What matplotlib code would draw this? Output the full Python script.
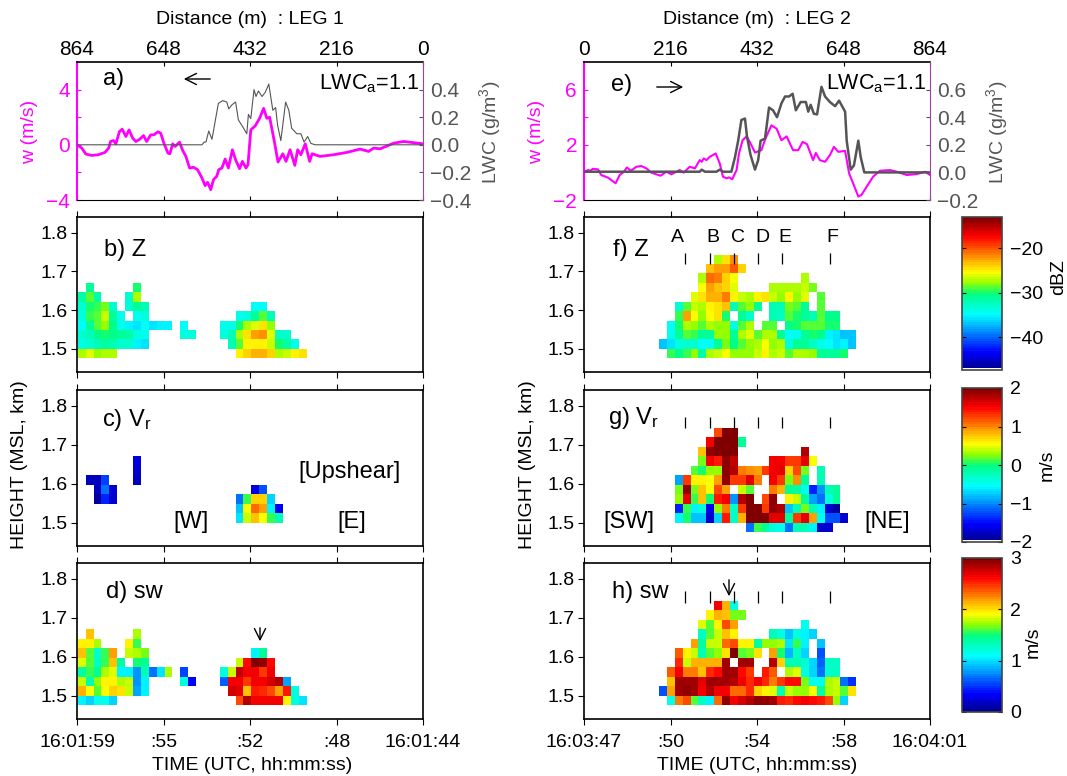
"""Aircraft legs through a cloud: w and LWC traces above radar Z, Vr and sw curtains."""

import numpy as np
import matplotlib
matplotlib.use("Agg")
import matplotlib.pyplot as plt
from matplotlib.colors import LinearSegmentedColormap, ListedColormap, Normalize
from matplotlib.cm import ScalarMappable
from matplotlib.patches import FancyArrowPatch

plt.rcParams['font.family'] = ['Liberation Sans', 'DejaVu Sans']
plt.rcParams['mathtext.fontset'] = 'custom'
plt.rcParams['mathtext.rm'] = 'Liberation Sans'
plt.rcParams['mathtext.it'] = 'Liberation Sans'
plt.rcParams['font.size'] = 14

_ = np.nan

# flight level traces, distance in m
W1_DIST = [864,852,842,827,811,794,785,780,773,767,758,751,742,734,725,717,707,698,690,680,672,662,655,647,637,632,625,619,608,600,592,583,573,563,552,544,538,530,523,515,510,502,494,486,476,468,458,451,442,437,430,419,408,398,390,383,372,362,350,342,332,320,313,305,294,283,277,257,223,190,157,136,123,107,73,48,0]
W1 = [0,-.24,-.67,-.77,-.72,-.55,-.24,.24,.31,.07,.96,1.13,.6,1.08,.48,.24,.41,.67,.24,.72,.72,.94,.84,.12,-.6,-.65,.07,-.12,.19,-.41,-.84,-1.68,-1.63,-1.8,-2.4,-2.96,-2.72,-3.25,-2.52,-2.28,-1.8,-1.68,-1.03,-1.68,-.36,-1.08,-1.73,-1.2,-1.68,-1.44,1.08,1.37,1.92,2.64,1.92,2.0,.36,-1.25,-.65,-1.2,-.36,-1.49,-.36,-.72,.07,-1.2,-.65,-.84,-.72,-.55,-.31,-.48,-.24,-.29,.12,.24,.07]
LWC1_DIST = [864,552,546,542,535,527,519,511,500,490,485,477,468,461,450,440,436,430,422,417,411,402,394,385,375,368,363,355,343,335,328,315,305,297,288,280,269,0]
LWC1 = [0,0,.02,.02,.10,.04,.17,.30,.32,.31,.26,.29,.31,.18,.13,.08,.22,.19,.40,.35,.39,.35,.38,.44,.25,.27,.14,.03,.31,.25,.12,.08,.08,.02,.06,.01,0,0]
W2_DIST = [0,10,16,22,35,43,60,79,89,100,107,117,131,143,156,168,191,206,218,239,249,264,277,289,294,299,306,314,329,339,347,356,362,370,381,387,396,406,414,427,443,452,468,481,493,506,522,535,546,557,572,579,589,602,614,624,635,652,662,672,685,693,706,722,739,764,781,806,831,852,864]
W2 = [.05,.17,.12,.26,.22,-.19,-.38,-.79,-.19,.05,.36,.12,.41,.46,.29,-.02,-.24,.05,-.14,.17,-.02,.41,.29,.89,.77,1.01,.89,1.13,1.37,.65,-.31,-.43,-.36,-.5,.17,1.37,2.33,2.61,2.21,1.44,1.61,2.37,3.41,3.17,2.33,2.61,1.61,1.61,2.21,2.04,.89,1.41,.89,.77,1.25,1.85,1.49,1.56,-.07,-.79,-1.75,-1.63,-1.03,-.31,.12,.17,.05,-.19,-.12,.05,-.19]
LWC2_DIST = [0,289,294,302,331,339,347,368,377,385,393,402,407,416,427,435,441,452,462,472,482,493,502,512,521,529,541,554,560,566,574,582,593,602,614,627,637,652,656,666,674,685,691,700,864]
LWC2 = [.005,.005,.02,.005,.005,.02,.005,.005,.11,.23,.38,.39,.26,.125,.02,.09,.23,.245,.47,.45,.40,.50,.55,.55,.57,.45,.51,.51,.44,.49,.425,.42,.62,.55,.51,.48,.52,.44,.23,.02,.05,.23,.11,0,0]

# radar curtains, rows from the lowest gate up, columns along the leg
Z_LEG1 = [
    [-27,-26,-28,-27,-27] + [_]*15 + [-25,-24,-23,-23,-24,-27,-26.5,-25,-24.5],
    [-33.5,-33,-32,-31.5,-32,-33,-33,-35.5,-36] + [_]*10 + [-32,-29,-25,-25,-25,-26.5,-30,-31.5,-34],
    [-33,-32,-30.5,-30,-30.5,-31,-31.5,-33.5,-34] + [_]*4 + [-33.5,-33.5] + [_]*3 + [-33.5,-32,-27,-24.5,-22.5,-22,-26,-32.5,-33],
    [-35,-31,-29,-28,-30.5,-34.5,-35.5,-36,-35,-36,-35.5,-35.5,_,-35] + [_]*4 + [-34.5,-34.5,-30,-27.5,-26,-24.5,-28],
    [-33.5,-29.5,-29,-26.5,-31,-34,_,-34.5,-33.5] + [_]*11 + [-34,-33.5,-31,-29,-32],
    [-33,-30,-29.5,-28.5,-33,_,-33,-31,-32] + [_]*13 + [-35,-35],
    [-31.5,-29,-31.5,_,_,_,-33,-27.5],
    [_,-31,_,_,_,_,_,-30],
]
Z_LEG2 = [
    [_]*11 + [-29.5,-30.5,-29.5,-28,-31.5,-27,-26.5,-25.5,-28,-28,-28,-26.5,-25,-27,-26.5,-29,-27,-27.5,-28,-31,-31,-31,-30],
    [_]*10 + [-37,-36,-33.5,-33,-33,-35,-35,-31,-28.5,-30.5,-29,-28,-27,-25.5,-28,-27.5,-33.5,-31,-31,-32.5,-34.5,-35,-36,-35.5,-37],
    [_]*11 + [-34,-31,-29,-29.5,-31,-31,-28,-28,-31,-27.5,-26,-29,-27,-27,-31,-35,-34.5,-31,-30,-30.5,-35.5,-36,-37,-37],
    [_]*11 + [-35,-30,-27,-28,-29,-27,-28,-28,-33.5,-29,-27.5,_,-29,-29,_,-30.5,-30,-29,-29,-29,-30,-30],
    [_]*12 + [-29.5,-22.5,-25.5,-28,-25.5,-24.5,-30,_,-31,-33,_,_,-32,-32.5,-29,-30,-31,-32,-29,-30.5,-30.5],
    [_]*12 + [-33,-29,-26.5,-27,-25,-24.5,-23.5,-32,-29,-28,-31,_,-32,-32,-28.5,-29,-31,_,-29],
    [_]*14 + [-26,-24.5,-23,-23,-21.5,-25,-26.5,-27,-25,-24.5,-26.5,-28,-25,-28,-26,_,-29],
    [_]*15 + [-25.5,-22.5,-23.5,-24,-26] + [_]*4 + [-27,-27,-27,-27,-26.5,-28.5],
    [_]*15 + [-27,-21,-21.5,-24,-25.5] + [_]*8 + [-27],
    [_]*16 + [-23.5,-22.5,-22.5,-20.5,-24],
    [_]*17 + [-27.5,-24.5,-22],
]
VR_LEG1 = [
    [],
    [_]*20 + [-.65,.4,.8,.5,.1,-.2],
    [_]*20 + [-.8,.5,1.1,.9,-.6,-1.6],
    [_,_,-1.9,-1.4,-1.7] + [_]*15 + [-1.1,.1,.7,.7,-.7],
    [_,_,-1.8,-1.1,-1.7] + [_]*17 + [-1.65,-1.2],
    [_,-1.8,-1.8,-1.3,_,_,_,-1.8],
    [_]*7 + [-1.75],
    [_]*7 + [-1.65],
]
VR_LEG2 = [
    [_]*21 + [-1.1,.1,-.1,-.4,-.5,-1.1,-.2,-.25,-.6,-1.7,-1.7],
    [_]*12 + [-.6,0,-.8,-.8,-1.75,-.7,1.4,-.3,.85,2,2,2,1.6,1.6,-.1,1.3,1.6,.9,-.5,-1.2,-1.2,-1.7],
    [_]*12 + [-1.4,.1,-.6,-.4,-1.6,.25,1.05,-.3,1.3,2,2,1.3,1.9,1.8,-.8,-.2,.2,-.2,-.6,-1.7,-1.9],
    [_]*12 + [.25,1.6,.1,.8,.05,1.4,1.5,-1,1.8,2,_,1.2,1.9,_,.6,.4,-.1,-.9,-1.1,-.4,-.1],
    [_]*12 + [.2,1.9,.2,.8,.55,1.2,.9,_,.4,.15,_,_,1.05,.85,-.1,-.15,-.5,-1.4,-1,-.2,-.1],
    [_]*12 + [-.9,1.3,.6,.6,.5,.9,1.9,1.25,1.25,1.6,1.05,_,1.5,1.25,.2,.95,-.1,_,-.2],
    [_]*14 + [.15,.05,.25,.25,1.9,1.8,1,.95,.9,1.3,1.5,1.6,.7,1.2,.2,_,-.2],
    [_]*15 + [.2,1.5,1.4,1.9,1.7] + [_]*4 + [1.5,1.5,1.3,1.3,1.6,.5],
    [_]*15 + [.8,1.9,2,2,2] + [_]*8 + [1.8],
    [_]*16 + [1.5,2,2,2,-.1],
    [_]*17 + [1.2,2,2],
]
SW_LEG1 = [
    [1.05,.95,1.15,1.15,.95] + [_]*15 + [2.4,2.85,2.65,2.65,2.65,2.65,1.95,1.2,1.0],
    [2.15,1.9,1.6,1.9,2.05,2,1.8,.8,1.05] + [_]*10 + [2.75,2.7,2.1,2.55,2.5,2.4,2.2,2.55,1.2],
    [1.8,1.35,1.7,1.95,1.95,1.75,1.8,.75,1.05] + [_]*4 + [1.2,.35] + [_]*3 + [.65,2.65,2.65,2.45,2.65,2.65,2.75,2.85,.8],
    [1.4,1.55,1.45,1.75,1.85,1.05,1.05,.75,1.35,.7,1.0,1.75,_,.55] + [_]*4 + [1.2,1.8,2.8,2.65,2.65,2.45,2.65],
    [1.85,1.6,1.3,1.55,2.1,1.4,_,1.5,1.45] + [_]*11 + [1.8,2.6,3,2.95,2.6],
    [2.1,1.6,1.25,1.55,2.2,_,1.8,1.75,1.65] + [_]*13 + [1.05,1.45],
    [1.95,1.95,1.75,_,_,_,1.95,1.55],
    [_,2.1,_,_,_,_,_,1.75],
]
SW_LEG2 = [
    [_]*11 + [1.15,2.25,2.4,1.6,1.3,1.05,2.3,2.95,2.65,2.75,2.85,2.95,2.95,2.9,2.55,2.5,2.6,2.65,2.6,2.55,2.4,1.7,.95],
    [_]*10 + [.6,2.2,2.9,2.95,2.9,2.65,2.85,2.65,2.65,2.3,2.3,2.5,2.05,1.95,1.85,1.35,1.8,1.7,1.7,1.9,1.4,1.75,1.8,1.6,2],
    [_]*11 + [2.1,2.9,2.9,2.9,2.7,2.9,2.9,2.9,2.85,2.65,2.5,2.65,2.5,2.25,2.45,2.6,2.6,1.65,1.15,1.15,1.75,1.8,.7,.5],
    [_]*11 + [2.35,2.65,2.25,2.25,2.1,2.5,2.6,2.9,2.9,2.6,2.45,_,2.55,2.35,_,1.75,1.85,1.2,.95,.7,1.25,1.3],
    [_]*12 + [2.5,1.8,2.15,2.15,2.15,2.15,2.9,_,2.9,2.9,_,_,2.85,2.05,1.35,1.35,1.25,.95,.65,1.3,1.3],
    [_]*12 + [2.35,1.95,1.8,1.35,1.6,1.7,2,3,1.6,1.65,2,_,2.2,1.5,.85,1.3,.95,_,.6],
    [_]*14 + [2.2,1.4,1.8,1.8,2.3,2.4,1.95,1.95,1.4,1.7,1.7,1.75,1,1.55,1.05,_,.9],
    [_]*15 + [1.3,1.6,1.8,2.1,1.95] + [_]*4 + [1.35,1.2,.9,1.2,1.05,.95],
    [_]*15 + [1.85,1.6,1.95,2.4,2.2] + [_]*8 + [1.15],
    [_]*16 + [1.95,2.15,2.1,1.65,1.65],
    [_]*17 + [2.65,2.15,1.2],
]

DIST_TICKS = [864, 648, 432, 216, 0]
LEG1_TIMES = ['16:01:59', ':55', ':52', ':48', '16:01:44']
LEG2_TICKS = [0, 216, 432, 648, 864]
LEG2_TIMES = ['16:03:47', ':50', ':54', ':58', '16:04:01']
HEIGHT_TICKS = [1.5, 1.6, 1.7, 1.8]
MARK_DIST = [252, 314, 374, 434, 494, 614]
MARK_NAMES = ['A', 'B', 'C', 'D', 'E', 'F']

W, H = 1067, 776
MAGENTA = '#ff00ff'
GREY = '#555555'
N_ROWS, N_COLS = 11, 46
CELL_M = 19.7
GATE_KM = 0.0243

fig = plt.figure(figsize=(W / 100, H / 100), dpi=100)


def add_axes(left, top, right, bottom):
    """Axes from pixel edges of the picture."""
    return fig.add_axes([left / W, 1 - bottom / H, (right - left) / W, (bottom - top) / H])


def put_text(x, y, s, **kw):
    """Figure text placed in pixels."""
    kw.setdefault('ha', 'center')
    kw.setdefault('va', 'center')
    fig.text(x / W, 1 - y / H, s, **kw)


def jet_colors(white_floor):
    anchors = [(0, '#00008f'), (.11, '#0000ff'), (.36, '#00ffff'), (.5, '#00ff80'), (.57, '#90ff00'),
               (.64, '#ffff00'), (.88, '#ff0000'), (1, '#800000')]
    colors = LinearSegmentedColormap.from_list('jetish', anchors)(np.linspace(0, 1, 64))
    if white_floor:
        colors[0] = [1, 1, 1, 1]
    return ListedColormap(colors)


def to_grid(rows):
    grid = np.full((N_ROWS, N_COLS), np.nan)
    for j, row in enumerate(rows):
        grid[j, :len(row)] = row
    return np.ma.masked_invalid(grid)


def draw_trace(ax, d_w, w, d_lwc, lwc, ylim_w, ylim_lwc, ticks, lwc_ticks, w_labels, w_width, lwc_width, xticks, xlim):
    ax.plot(d_w, w, color=MAGENTA, lw=w_width, zorder=3)
    ax.set_xlim(*xlim)
    ax.set_ylim(*ylim_w)
    ax.set_xticks(xticks)
    ax.tick_params(axis='x', direction='in', top=True, bottom=True, labeltop=True, labelbottom=False,
                   length=3, pad=2, labelsize=15)
    ax.set_yticks(ticks)
    ax.set_yticklabels(w_labels)
    ax.tick_params(axis='y', direction='in', colors=MAGENTA, length=3, pad=5, labelsize=15)
    ax.spines['left'].set_color(MAGENTA)
    ax.spines['left'].set_linewidth(1.5)
    ax.spines['right'].set_visible(False)
    ax.spines['top'].set_linewidth(1.2)
    ax2 = ax.twinx()
    ax2.plot(d_lwc, lwc, color=GREY, lw=lwc_width, zorder=2)
    ax2.set_xlim(*xlim)
    ax2.set_ylim(*ylim_lwc)
    ax2.set_yticks(lwc_ticks)
    ax2.tick_params(axis='y', direction='in', colors=GREY, length=3, pad=5, labelsize=15)
    ax2.spines['right'].set_color('#a040a0')
    ax2.spines['left'].set_visible(False)
    ax2.spines['top'].set_visible(False)
    ax2.spines['bottom'].set_visible(False)


def draw_curtain(ax, rows, edges_x, cmap, vmin, vmax, xticks, xlim, labels=None):
    edges_y = 1.5 + (np.arange(N_ROWS + 1) - 1) * GATE_KM
    ax.pcolormesh(edges_x, edges_y, to_grid(rows), cmap=cmap, vmin=vmin, vmax=vmax, shading='flat')
    ax.set_xlim(*xlim)
    ax.set_ylim(1.44, 1.84)
    ax.set_xticks(xticks)
    ax.set_yticks(HEIGHT_TICKS)
    ax.tick_params(direction='out', length=4, top=True, right=False, labelsize=14)
    ax.tick_params(axis='y', pad=3)
    ax.tick_params(axis='x', pad=7)
    if labels is None:
        ax.set_xticklabels([])
    else:
        ax.set_xticklabels(labels)
    for side in ['top', 'right', 'bottom', 'left']:
        ax.spines[side].set_linewidth(1.2)


def draw_colorbar(top, bottom, cmap, vmin, vmax, ticks):
    cax = add_axes(962, top, 1002, bottom)
    cb = fig.colorbar(ScalarMappable(Normalize(vmin, vmax), cmap), cax=cax, ticks=ticks)
    cb.ax.tick_params(direction='in', length=3, pad=6, labelsize=14, left=True, right=True)
    cb.outline.set_linewidth(1.2)
    cb.outline.set_edgecolor('#444444')


z_cmap = jet_colors(True)
sw_cmap = jet_colors(False)
edges_leg1 = 862 - CELL_M * np.arange(N_COLS + 1)
edges_leg2 = -9.7 + CELL_M * np.arange(N_COLS + 1)

TOPS = [(217, 372), (390, 546), (563, 719)]
LEFT_X = (77, 423)
RIGHT_X = (584, 930)

# flight level panels
ax_a = add_axes(LEFT_X[0], 62, LEFT_X[1], 200)
draw_trace(ax_a, W1_DIST, W1, LWC1_DIST, LWC1, (-4, 6), (-.4, .6), [-4, -2, 0, 2, 4], [-.4, -.2, 0, .2, .4],
           ['\u22124', '', '0', '', '4'], 2, 0.8, DIST_TICKS, (864, 0))
ax_e = add_axes(RIGHT_X[0], 62, RIGHT_X[1], 200)
draw_trace(ax_e, W2_DIST, W2, LWC2_DIST, LWC2, (-2, 8), (-.2, .8), [-2, 0, 2, 4, 6], [-.2, 0, .2, .4, .6],
           ['\u22122', '', '2', '', '6'], 1.5, 1.8, LEG2_TICKS, (0, 864))

# radar panels
leg1_rows = [Z_LEG1, VR_LEG1, SW_LEG1]
leg2_rows = [Z_LEG2, VR_LEG2, SW_LEG2]
limits = [(-47.4, -13), (-2, 2), (0, 3)]
cmaps = [z_cmap, z_cmap, sw_cmap]
axes_left = []
axes_right = []
for i, (top, bottom) in enumerate(TOPS):
    lab1 = LEG1_TIMES if i == 2 else None
    lab2 = LEG2_TIMES if i == 2 else None
    ax1 = add_axes(LEFT_X[0], top, LEFT_X[1], bottom)
    draw_curtain(ax1, leg1_rows[i], edges_leg1, cmaps[i], limits[i][0], limits[i][1], DIST_TICKS, (864, 0), lab1)
    ax2 = add_axes(RIGHT_X[0], top, RIGHT_X[1], bottom)
    draw_curtain(ax2, leg2_rows[i], edges_leg2, cmaps[i], limits[i][0], limits[i][1], LEG2_TICKS, (0, 864), lab2)
    axes_left.append(ax1)
    axes_right.append(ax2)

# tick marks for the A-F columns on the right hand panels
for ax, y0, y1 in zip(axes_right, [1.72, 1.743, 1.738], [1.748, 1.772, 1.769]):
    ax.vlines(MARK_DIST, y0, y1, color='black', lw=0.9)

draw_colorbar(217, 370, z_cmap, -47.4, -13, [-40, -30, -20])
draw_colorbar(388, 542, z_cmap, -2, 2, [-2, -1, 0, 1, 2])
draw_colorbar(558, 712, sw_cmap, 0, 3, [0, 1, 2, 3])

# titles and axis labels
put_text(250, 20, 'Distance (m)  : LEG 1')
put_text(757, 20, 'Distance (m)  : LEG 2')
put_text(252, 765, 'TIME (UTC, hh:mm:ss)')
put_text(757, 765, 'TIME (UTC, hh:mm:ss)')
put_text(19, 465, 'HEIGHT (MSL, km)', rotation=90)
put_text(527, 465, 'HEIGHT (MSL, km)', rotation=90)
put_text(30, 132, 'w (m/s)', rotation=90, color=MAGENTA)
put_text(537, 132, 'w (m/s)', rotation=90, color=MAGENTA)
put_text(490, 132, 'LWC (g/m$^3$)', rotation=90, color=GREY)
put_text(997, 132, 'LWC (g/m$^3$)', rotation=90, color=GREY)
put_text(1059, 277, 'dBZ', rotation=90)
put_text(1047, 465, 'm/s', rotation=90)
put_text(1033, 642, 'm/s', rotation=90)

# panel letters
for x, y, s in [(114, 79, 'a)'), (622, 85, 'e)'), (125, 250, 'b) Z'), (631, 250, 'f) Z'),
                (127, 420, 'c) V$_{\\mathrm{r}}$'), (633, 418, 'g) V$_{\\mathrm{r}}$'),
                (134, 592, 'd) sw'), (640, 592, 'h) sw')]:
    put_text(x, y, s, fontsize=17)
put_text(369, 84, 'LWC$_{\\mathrm{a}}$=1.1', fontsize=15.5)
put_text(876, 84, 'LWC$_{\\mathrm{a}}$=1.1', fontsize=15.5)

for x, y, s in [(349, 472, '[Upshear]'), (191, 522, '[W]'), (352, 522, '[E]'), (629, 522, '[SW]'), (887, 522, '[NE]')]:
    put_text(x, y, s, fontsize=17)
for x, s in zip([677, 713, 738, 762, 785, 832], MARK_NAMES):
    put_text(x, 237, s, fontsize=14)

# little direction arrows
arrow = dict(arrowstyle='->', color='black', lw=1.0, mutation_scale=20)
for start, end in [((213, 79), (181, 79)), ((654, 87), (686, 87)), ((260, 625), (260, 644)), ((729, 577), (729, 599))]:
    fig.add_artist(FancyArrowPatch((start[0] / W, 1 - start[1] / H), (end[0] / W, 1 - end[1] / H),
                                   transform=fig.transFigure, **arrow))

fig.savefig('out.png', dpi=100)
